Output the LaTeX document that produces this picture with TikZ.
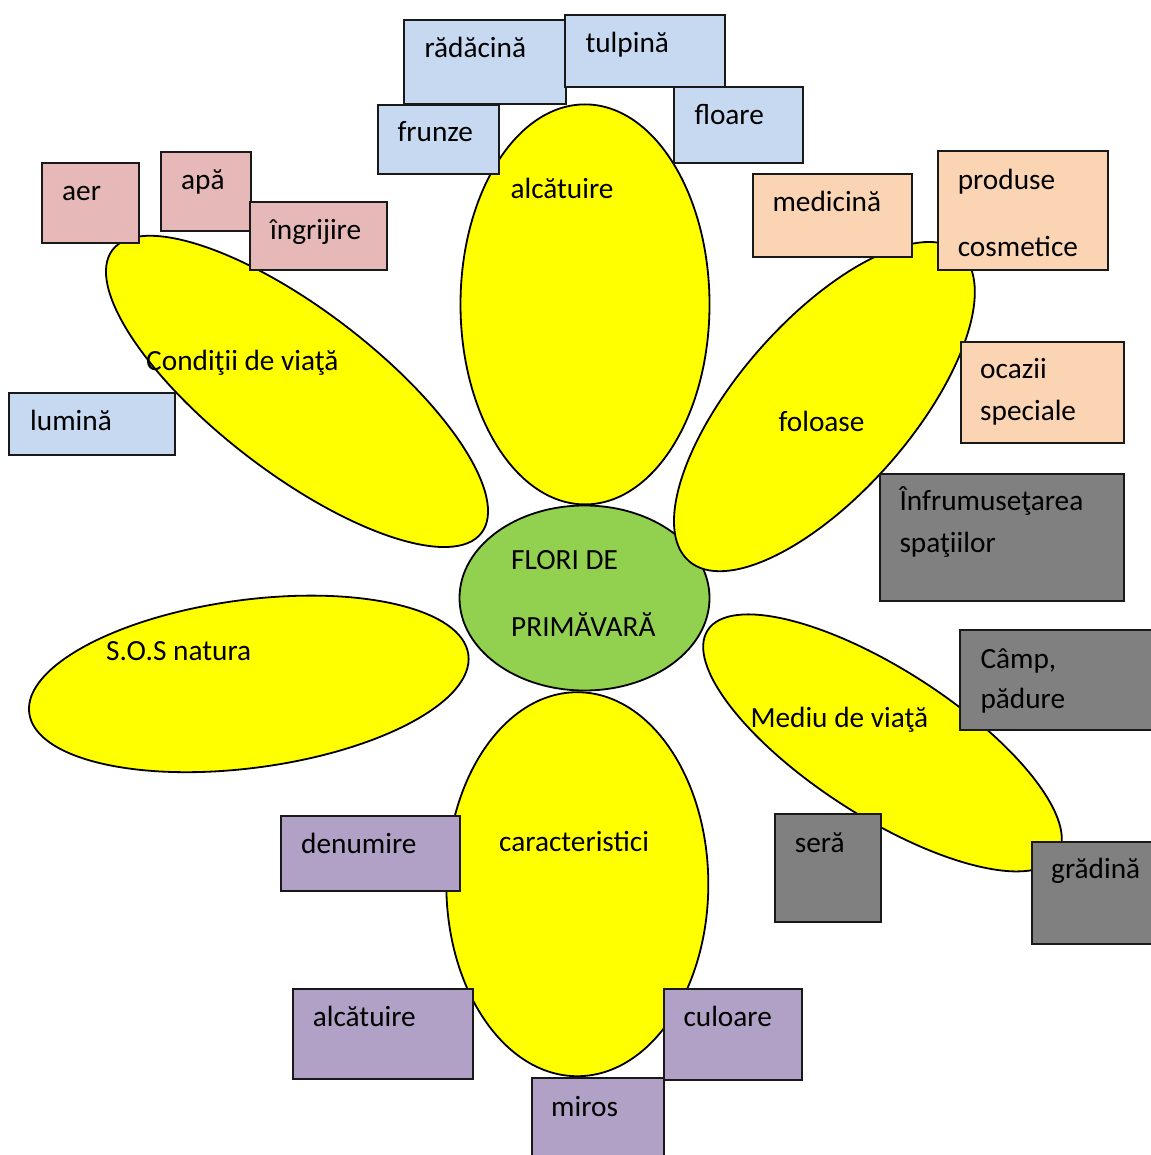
\documentclass[tikz,border=0pt]{standalone}
\usepackage{fontspec}
\setmainfont{Carlito}
\usetikzlibrary{shapes.geometric}
\definecolor{petalY}{HTML}{FFFF00}
\definecolor{hubG}{HTML}{92D050}
\definecolor{boxBlue}{HTML}{C6D9F1}
\definecolor{boxPink}{HTML}{E6B9B8}
\definecolor{boxPeach}{HTML}{FBD4B4}
\definecolor{boxGrey}{HTML}{808080}
\definecolor{boxPurple}{HTML}{B2A1C7}
\begin{document}
\begin{tikzpicture}[x=1pt,y=-1pt,
  petal/.style={ellipse, draw=black, line width=1.8pt, fill=petalY, inner sep=0pt},
  hub/.style={ellipse, draw=black, line width=1.8pt, fill=hubG, inner sep=0pt},
  card/.style={rectangle, draw=black!90, line width=1.9pt, inner sep=0pt, anchor=north west},
  blue/.style={card, fill=boxBlue},
  pink/.style={card, fill=boxPink},
  peach/.style={card, fill=boxPeach},
  grey/.style={card, fill=boxGrey},
  purple/.style={card, fill=boxPurple},
  lbl/.style={anchor=base west, inner sep=0pt, outer sep=0pt, text=black, font=\fontsize{29.3}{35}\selectfont}
]
\useasboundingbox[fill=white] (0,0) rectangle (1150,1155);

% centre
\node[hub, minimum width=250pt, minimum height=185pt] (hub) at (584.5,598) {};

% petals
\node[petal, minimum width=249pt, minimum height=400pt] (pTop) at (585,304.4) {};
\node[petal, minimum width=262pt, minimum height=384pt] (pBot) at (577.3,884.2) {};
\node[petal, minimum width=465pt, minimum height=163pt, rotate=-37.5] (pCond) at (297,391.4) {};
\node[petal, minimum width=411pt, minimum height=173pt, rotate=48.7] (pFol) at (824.4,406.6) {};
\node[petal, minimum width=443pt, minimum height=168pt, rotate=7.6] (pSos) at (248.8,683.9) {};
\node[petal, minimum width=416pt, minimum height=147pt, rotate=-32.8] (pMed) at (882.5,742.9) {};

% petal / hub labels
\node[lbl] (tFlori1) at (511.2,569.3) {FLORI DE};
\node[lbl] (tFlori2) at (511.2,636.7) {PRIMĂVARĂ};
\node[lbl] (tAlc) at (510.5,198.7) {alcătuire};
\node[lbl] (tCar) at (499.2,851.7) {caracteristici};
\node[lbl] (tCond) at (146.2,370) {Condiţii de viaţă};
\node[lbl] (tFol) at (778.5,431.7) {foloase};
\node[lbl] (tSos) at (106.2,660) {S.O.S natura};
\node[lbl] (tMed) at (750.5,727.7) {Mediu de viaţă};

% blue boxes
\node[blue, minimum width=161.7pt, minimum height=84.3pt] (bRad) at (403.3,19) {};
\node[blue, minimum width=159.7pt, minimum height=71.4pt] (bTul) at (564.3,14.3) {};
\node[blue, minimum width=121pt, minimum height=69.6pt] (bFru) at (376.7,103.7) {};
\node[blue, minimum width=128.4pt, minimum height=75.7pt] (bFlo) at (673.3,86) {};
\node[blue, minimum width=165.7pt, minimum height=61.7pt] (bLum) at (8.3,392.3) {};

% pink boxes
\node[pink, minimum width=96.7pt, minimum height=80pt] (bAer) at (41,161.7) {};
\node[pink, minimum width=90pt, minimum height=79.3pt] (bApa) at (160,150.7) {};
\node[pink, minimum width=136.7pt, minimum height=68.3pt] (bIng) at (249.3,200.7) {};

% peach boxes
\node[peach, minimum width=158.7pt, minimum height=82.4pt] (bMed) at (752,173.3) {};
\node[peach, minimum width=170pt, minimum height=118.7pt] (bPro) at (937.3,150.3) {};
\node[peach, minimum width=163.6pt, minimum height=101pt] (bOca) at (959.7,340.7) {};

% grey boxes
\node[grey, minimum width=244.3pt, minimum height=127.3pt] (bInf) at (879,472.7) {};
\node[grey, minimum width=205.7pt, minimum height=100.3pt] (bCam) at (959.3,629) {};
\node[grey, minimum width=106pt, minimum height=107.4pt] (bSer) at (773.7,813.3) {};
\node[grey, minimum width=134.3pt, minimum height=102.6pt] (bGra) at (1030.7,840.7) {};

% purple boxes
\node[purple, minimum width=179.1pt, minimum height=75pt] (bDen) at (280.3,815) {};
\node[purple, minimum width=180pt, minimum height=89.4pt] (bAlc) at (291.7,988.3) {};
\node[purple, minimum width=138.3pt, minimum height=91pt] (bCul) at (662.7,988.3) {};
\node[purple, minimum width=131.7pt, minimum height=92.7pt] (bMir) at (531,1077.3) {};

% box labels
\node[lbl] (tRad) at (424.5,57.3) {rădăcină};
\node[lbl] (tTul) at (585.5,53) {tulpină};
\node[lbl] (tFru) at (397.5,141.7) {frunze};
\node[lbl] (tFlo) at (694.5,124.3) {floare};
\node[lbl] (tLum) at (30.2,430) {lumină};
\node[lbl] (tAer) at (62.2,201) {aer};
\node[lbl] (tApa) at (181.2,189.3) {apă};
\node[lbl] (tIng) at (270.2,239.3) {îngrijire};
\node[lbl] (tMedi) at (772.5,211.7) {medicină};
\node[lbl] (tPro1) at (957.8,189.3) {produse};
\node[lbl] (tPro2) at (957.8,256.7) {cosmetice};
\node[lbl] (tOca1) at (980.2,378.3) {ocazii};
\node[lbl] (tOca2) at (980.2,420.7) {speciale};
\node[lbl] (tInf1) at (899.5,510) {Înfrumuseţarea};
\node[lbl] (tInf2) at (899.5,552.3) {spaţiilor};
\node[lbl] (tCam1) at (980.5,668.3) {Câmp,};
\node[lbl] (tCam2) at (980.5,708.3) {pădure};
\node[lbl] (tSer) at (794.8,852.7) {seră};
\node[lbl] (tGra) at (1051.2,878.3) {grădină};
\node[lbl] (tDen) at (301.2,853.3) {denumire};
\node[lbl] (tAlc2) at (312.8,1026.7) {alcătuire};
\node[lbl] (tCul) at (683.5,1026.7) {culoare};
\node[lbl] (tMir) at (551.2,1116) {miros};
\end{tikzpicture}
\end{document}
